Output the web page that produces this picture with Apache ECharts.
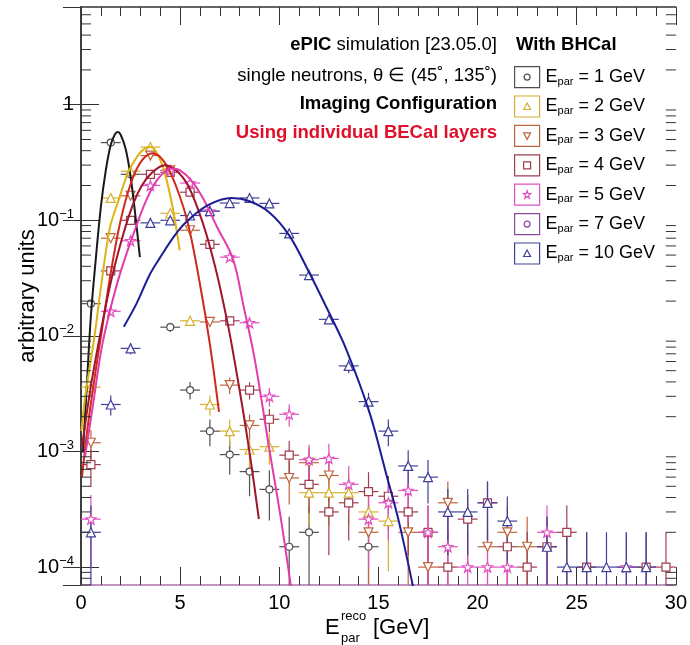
<!DOCTYPE html>
<html>
<head>
<meta charset="UTF-8">
<title>Reconstructed neutron energy</title>
<script src="https://cdn.jsdelivr.net/npm/echarts@6/dist/echarts.min.js"></script>
<style>body{margin:0;background:#fff;}</style>
</head>
<body>
<div id="chart" style="width:690px;height:645px;"></div>
<script>
// bin centres are x.5 GeV, bins are 1 GeV wide
var xTicks = [0, 5, 10, 15, 20, 25, 30];
var yDecades = [1e-4, 1e-3, 1e-2, 1e-1, 1];
var energies = ['1 GeV', '2 GeV', '3 GeV', '4 GeV', '5 GeV', '7 GeV', '10 GeV'];

var pts1 = [[0.5,0.019],[1.5,0.47],[2.5,0.25],[4.5,0.0119],[5.5,0.0034],[6.5,0.0015],[7.5,0.00094],
  [8.5,0.00067],[9.5,0.00047],[10.5,0.00015],[11.5,0.0002],[14.5,0.00015]];
var pts2 = [[0.5,0.0036],[1.5,0.156],[2.5,0.266],[3.5,0.43],[4.5,0.115],[5.5,0.0135],[6.5,0.00255],
  [7.5,0.0015],[8.5,0.00104],[9.5,0.0011],[11.5,0.00044],[12.5,0.00044],[13.5,0.00044],[14.5,0.0003],[15.5,0.00025]];
var pts3 = [[0.5,0.00119],[1.5,0.07],[2.5,0.163],[3.5,0.363],[4.5,0.27],[5.5,0.082],[6.5,0.0132],[7.5,0.00375],
  [8.5,0.00168],[10.5,0.00059],[11.5,0.0008],[12.5,0.00062],[14.5,0.0002],[16.5,0.0002],[17.5,0.0001],
  [18.5,0.00036],[20.5,0.00015],[21.5,0.0002],[22.5,0.00015]];
var pts4 = [[0.5,0.00077],[1.5,0.0365],[2.5,0.10],[3.5,0.25],[4.5,0.26],[5.5,0.175],[6.5,0.062],[7.5,0.0135],
  [8.5,0.0034],[9.5,0.0019],[10.5,0.00093],[11.5,0.00052],[12.5,0.0003],[13.5,0.00036],[14.5,0.00045],
  [15.5,0.00041],[16.5,0.0003],[17.5,0.0002],[18.5,0.0001],[19.5,0.00026],[20.5,0.00036],[21.5,0.00015],
  [22.5,0.0001],[23.5,0.00015],[24.5,0.0002],[25.5,0.0001],[28.5,0.0001],[29.5,0.0001]];
var pts5 = [[0.5,0.00026],[1.5,0.0163],[2.5,0.0665],[3.5,0.2],[4.5,0.27],[5.5,0.21],[6.5,0.12],[7.5,0.048],
  [8.5,0.013],[9.5,0.003],[10.5,0.0021],[11.5,0.00085],[12.5,0.00087],[13.5,0.00052],[14.5,0.00026],
  [15.5,0.00036],[16.5,0.00046],[17.5,0.0002],[18.5,0.00015],[19.5,0.0001],[20.5,0.0001],[21.5,0.0001],
  [23.5,0.0002],[27.5,0.0001]];
var pts7 = [];
var pts10 = [[0.5,0.0002],[1.5,0.00255],[2.5,0.0078],[3.5,0.095],[4.5,0.10],[5.5,0.11],[6.5,0.12],[7.5,0.141],
  [8.5,0.156],[9.5,0.14],[10.5,0.077],[11.5,0.0336],[12.5,0.0139],[13.5,0.0055],[14.5,0.0027],[15.5,0.0015],
  [16.5,0.00075],[17.5,0.0006],[18.5,0.0003],[19.5,0.0003],[20.5,0.00036],[21.5,0.00025],[23.5,0.00015],
  [24.5,0.0001],[25.5,0.0001],[26.5,0.0001],[27.5,0.0001],[28.5,0.0001]];

// fitted curves
var fit1 = [[0.1,0.00098],[0.3,0.0039],[0.5,0.015],[0.75,0.047],[1.0,0.13],[1.25,0.27],[1.5,0.45],[1.7,0.55],
  [1.85,0.58],[2.0,0.55],[2.25,0.415],[2.5,0.24],[2.75,0.107],[2.97,0.048]];
var fit2 = [[0.02,0.0015],[0.2,0.0029],[0.45,0.0055],[0.7,0.0105],[1.0,0.026],[1.45,0.085],[1.9,0.15],
  [2.38,0.26],[2.9,0.37],[3.2,0.415],[3.47,0.43],[3.8,0.39],[4.2,0.265],[4.6,0.135],[4.98,0.055]];
var fit3 = [[0.05,0.0006],[0.35,0.0017],[0.7,0.0045],[1.02,0.0103],[1.5,0.035],[2.0,0.1],[2.5,0.205],
  [3.0,0.317],[3.6,0.38],[4.2,0.32],[4.8,0.196],[5.4,0.093],[6.0,0.028],[6.5,0.0085],[6.96,0.0022]];
var fit4 = [[0.05,0.0011],[0.5,0.0037],[1.0,0.011],[1.5,0.029],[2.0,0.063],[2.5,0.12],[3.0,0.19],[3.6,0.26],
  [4.23,0.30],[4.8,0.27],[5.4,0.2],[6.15,0.094],[6.8,0.0375],[7.4,0.0127],[7.75,0.006],[8.2,0.0021],
  [8.6,0.00075],[8.97,0.00026]];
var fit5 = [[0.2,0.0009],[0.6,0.0025],[1.02,0.0075],[1.44,0.016],[2.0,0.036],[2.7,0.081],[3.3,0.15],
  [3.9,0.23],[4.6,0.28],[5.0,0.27],[5.57,0.22],[6.2,0.15],[6.9,0.085],[7.67,0.046],[8.2,0.018],
  [8.76,0.0063],[9.5,0.00104],[10.1,0.00025],[10.7,0.00005]];
var fit7 = [];
var fit10 = [[2.16,0.012],[2.8,0.019],[3.47,0.034],[4.0,0.048],[4.73,0.074],[5.32,0.097],[6.4,0.135],
  [7.6,0.156],[8.5,0.146],[9.5,0.117],[10.5,0.074],[11.52,0.035],[12.5,0.016],[13.37,0.0077],
  [14.54,0.0022],[15.38,0.00065],[16.05,0.00024],[16.9,0.00005]];

var Y_MIN = 7e-5, Y_MAX = 7;
var ENTRY = 1e-4; // weight of a single entry

var markColors = ['#505050', '#d4b030', '#c0643c', '#a03c50', '#e050c0', '#8a4aa0', '#40409a'];
var lineColors = ['#1a1a1a', '#dcb414', '#d0281c', '#a0142c', '#e23caa', '#8a4aa0', '#1c1c96'];
var symbols = ['circle', 'triangle', 'path://M0,0 L10,0 L5,9 Z', 'rect',
  'path://M5,0 L6.2,3.4 L10,3.6 L7,5.8 L8.1,9.5 L5,7.3 L1.9,9.5 L3,5.8 L0,3.6 L3.8,3.4 Z',
  'circle', 'triangle'];
var symSizes = [7, 9, 9, 8, 10, 7, 9];
var box = 'M0,0 H25 V21 H0 Z ';
var legendIcons = [
  'path://' + box + 'M15.5,10.5 A3,3 0 1 1 9.5,10.5 A3,3 0 1 1 15.5,10.5 Z',
  'path://' + box + 'M12.5,7 L16,13.5 L9,13.5 Z',
  'path://' + box + 'M9,7.5 L16,7.5 L12.5,14 Z',
  'path://' + box + 'M9,7 H16 V14 H9 Z',
  'path://' + box + 'M12.5,6.5 L13.4,9.3 L16.2,9.4 L14,11.1 L14.8,14 L12.5,12.3 L10.2,14 L11,11.1 L8.8,9.4 L11.6,9.3 Z',
  'path://' + box + 'M15.5,10.5 A3,3 0 1 1 9.5,10.5 A3,3 0 1 1 15.5,10.5 Z',
  'path://' + box + 'M12.5,7 L16,13.5 L9,13.5 Z'
];
var allPts = [pts1, pts2, pts3, pts4, pts5, pts7, pts10];
var allFits = [fit1, fit2, fit3, fit4, fit5, fit7, fit10];

var FONT = '"Liberation Sans", Arial, Helvetica, sans-serif';

function withErrors(pts) {
  return pts.map(function (p) {
    var e = Math.sqrt(p[1] * ENTRY);
    return [p[0], p[1], p[1] - e, p[1] + e];
  });
}

function errRender(color) {
  return function (params, api) {
    var x = api.value(0), y = api.value(1);
    var lo = Math.max(api.value(2), Y_MIN * 0.5), hi = api.value(3);
    var l = api.coord([x - 0.5, y]), r = api.coord([x + 0.5, y]);
    var t = api.coord([x, hi]), b = api.coord([x, lo]);
    var st = { stroke: color, lineWidth: 1.2 };
    return {
      type: 'group',
      children: [
        { type: 'line', shape: { x1: l[0], y1: l[1], x2: r[0], y2: r[1] }, style: st },
        { type: 'line', shape: { x1: t[0], y1: t[1], x2: b[0], y2: b[1] }, style: st }
      ]
    };
  };
}

// minor log ticks 2..9 per decade, on both vertical frame sides
var minorVals = [];
[1e-5, 1e-4, 1e-3, 1e-2, 1e-1, 1].forEach(function (d) {
  for (var k = 2; k <= 9; k++) {
    var v = d * k;
    if (v > Y_MIN && v < Y_MAX) minorVals.push([0, v]);
  }
});

var series = [];
energies.forEach(function (name, i) {
  series.push({
    type: 'custom', name: name + ' err', silent: true, clip: true, z: 2,
    renderItem: errRender(markColors[i]),
    data: withErrors(allPts[i])
  });
});
energies.forEach(function (name, i) {
  series.push({
    type: 'scatter', name: name, z: 3, symbol: symbols[i], symbolSize: symSizes[i],
    itemStyle: { color: '#fff', borderColor: markColors[i], borderWidth: 1.2, opacity: 1 },
    data: allPts[i]
  });
});
energies.forEach(function (name, i) {
  if (!allFits[i].length) return;
  series.push({
    type: 'line', name: name + ' fit', z: 4, smooth: 0.35, showSymbol: false, silent: true, clip: true,
    lineStyle: { color: lineColors[i], width: 2 },
    data: allFits[i]
  });
});
series.push({
  type: 'custom', name: 'minor', silent: true, z: 5,
  renderItem: function (params, api) {
    var p = api.coord([0, api.value(1)]);
    var cs = params.coordSys;
    var st = { stroke: '#333', lineWidth: 1 };
    return {
      type: 'group',
      children: [
        { type: 'line', shape: { x1: cs.x, y1: p[1], x2: cs.x + 10, y2: p[1] }, style: st },
        { type: 'line', shape: { x1: cs.x + cs.width, y1: p[1], x2: cs.x + cs.width - 10, y2: p[1] }, style: st }
      ]
    };
  },
  data: minorVals
});

var legendData = energies.map(function (name, i) {
  return {
    name: name, icon: legendIcons[i],
    itemStyle: { color: '#fff', borderColor: markColors[i], borderWidth: 1.2 }
  };
});

function xAxisDef(pos) {
  return {
    type: 'value', position: pos, min: 0, max: 30, interval: 5,
    axisLine: { show: true, lineStyle: { color: pos === 'bottom' ? '#b070b0' : '#333', width: 1.5 } },
    axisTick: { show: true, inside: true, length: 18, lineStyle: { color: '#333' } },
    minorTick: { show: true, splitNumber: 5, length: 9, lineStyle: { color: '#333' } },
    splitLine: { show: false },
    axisLabel: {
      show: pos === 'bottom', fontSize: 20, color: '#000', fontFamily: FONT, margin: 8,
      formatter: function (v) { return xTicks.indexOf(v) >= 0 ? String(v) : ''; }
    }
  };
}

function yAxisDef(pos) {
  return {
    type: 'log', logBase: 10, position: pos, min: Y_MIN, max: Y_MAX, splitNumber: 5,
    axisLine: { show: true, lineStyle: { color: '#333', width: 1.5 } },
    axisTick: { show: true, inside: true, length: 18, lineStyle: { color: '#333' } },
    splitLine: { show: false },
    axisLabel: {
      show: pos === 'left', showMinLabel: false, showMaxLabel: false, margin: 7,
      formatter: function (v) {
        var e = Math.round(Math.log10(v));
        if (yDecades.indexOf(Math.pow(10, e)) < 0 && e !== 0) return '';
        if (e === 0) return '{b|1}';
        return '{b|10}{s|' + String(e).replace('-', '\u2212') + '}';
      },
      rich: {
        b: { fontSize: 20, fontFamily: FONT, color: '#000' },
        s: { fontSize: 13, fontFamily: FONT, color: '#000', padding: [0, 0, 12, 0] }
      }
    }
  };
}

var chart = echarts.init(document.getElementById('chart'), null, { renderer: 'canvas' });
chart.setOption({
  animation: false,
  backgroundColor: '#fff',
  grid: { left: 81, right: 13, top: 7, bottom: 60, containLabel: false },
  xAxis: [xAxisDef('bottom'), xAxisDef('top')],
  yAxis: [yAxisDef('left'), yAxisDef('right')],
  legend: {
    orient: 'vertical', left: 514, top: 66, padding: 0, itemWidth: 25, itemHeight: 21, itemGap: 7.2,
    selectedMode: false, data: legendData,
    formatter: function (n) { return '{m|E}{sub|par}{m| = ' + n + '}'; },
    textStyle: {
      fontFamily: FONT, color: '#000', padding: [0, 0, 0, 1],
      rich: {
        m: { fontSize: 18, fontFamily: FONT, color: '#000', lineHeight: 21 },
        sub: { fontSize: 11, fontFamily: FONT, color: '#000', padding: [9, 0, 0, 0] }
      }
    }
  },
  graphic: [
    { type: 'text', x: 497, y: 45, style: { text: '{b|ePIC} simulation [23.05.0]', textAlign: 'right', textVerticalAlign: 'middle',
        font: '18.5px ' + FONT, fill: '#000', rich: { b: { fontWeight: 'bold', fontSize: 18.5, fontFamily: FONT } } } },
    { type: 'text', x: 497, y: 76, style: { text: 'single neutrons, \u03b8 \u2208 (45\u02da, 135\u02da)', textAlign: 'right',
        textVerticalAlign: 'middle', font: '18.5px ' + FONT, fill: '#000' } },
    { type: 'text', x: 497, y: 104, style: { text: 'Imaging Configuration', textAlign: 'right', textVerticalAlign: 'middle',
        font: 'bold 18.5px ' + FONT, fill: '#000' } },
    { type: 'text', x: 497, y: 133, style: { text: 'Using individual BECal layers', textAlign: 'right', textVerticalAlign: 'middle',
        font: 'bold 18.5px ' + FONT, fill: '#e0102a' } },
    { type: 'text', x: 516, y: 45, style: { text: 'With BHCal', textAlign: 'left', textVerticalAlign: 'middle',
        font: 'bold 18.5px ' + FONT, fill: '#000' } },
    { type: 'text', x: 325, y: 628, style: { text: 'E', textAlign: 'left', textVerticalAlign: 'middle', font: '22px ' + FONT, fill: '#000' } },
    { type: 'text', x: 341, y: 616, style: { text: 'reco', textAlign: 'left', textVerticalAlign: 'middle', font: '13px ' + FONT, fill: '#000' } },
    { type: 'text', x: 341, y: 638, style: { text: 'par', textAlign: 'left', textVerticalAlign: 'middle', font: '13px ' + FONT, fill: '#000' } },
    { type: 'text', x: 373, y: 628, style: { text: '[GeV]', textAlign: 'left', textVerticalAlign: 'middle', font: '22px ' + FONT, fill: '#000' } },
    { type: 'text', x: 28, y: 296, rotation: Math.PI / 2, style: { text: 'arbitrary units', textAlign: 'center',
        textVerticalAlign: 'middle', font: '22px ' + FONT, fill: '#000' } }
  ],
  series: series
});
</script>
</body>
</html>
